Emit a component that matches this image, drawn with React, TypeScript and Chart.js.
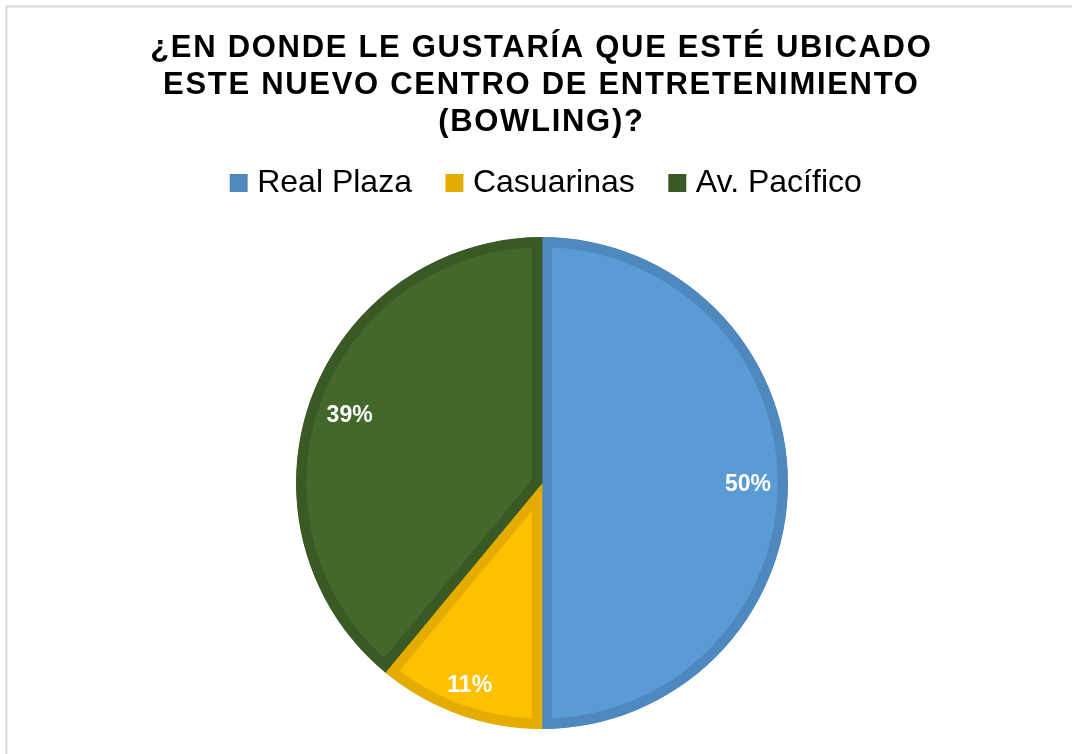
import React, { useEffect, useRef } from "react";
import { Chart, registerables } from "chart.js";

Chart.register(...registerables);

const categories = ["Real Plaza", "Casuarinas", "Av. Pacífico"];
const shares = [50, 11, 39];
const shareLabels = ["50%", "11%", "39%"];
const titleLines = [
  "¿EN DONDE LE GUSTARÍA QUE ESTÉ UBICADO",
  "ESTE NUEVO CENTRO DE ENTRETENIMIENTO",
  "(BOWLING)?",
];
const fillColors = ["#5B9BD5", "#FFC000", "#43682B"];
const edgeColors = ["#4F88BF", "#E5AC00", "#3A5A25"];

const FONT = '"Liberation Sans", Arial, sans-serif';

const framePlugin = {
  id: "frame",
  beforeDraw(chart: any) {
    const ctx = chart.ctx;
    ctx.save();
    ctx.fillStyle = "#FFFFFF";
    ctx.fillRect(0, 0, chart.width, chart.height);
    ctx.strokeStyle = "#D9D9D9";
    ctx.lineWidth = 2;
    ctx.strokeRect(6.5, 6.5, chart.width + 20, chart.height + 20);
    ctx.restore();
  },
};

const titlePlugin = {
  id: "customTitle",
  afterDraw(chart: any) {
    const ctx = chart.ctx;
    ctx.save();
    ctx.fillStyle = "#000000";
    ctx.font = `bold 31px ${FONT}`;
    const spacing = 1.7;
    (ctx as any).letterSpacing = spacing + "px";
    ctx.textAlign = "center";
    ctx.textBaseline = "alphabetic";
    titleLines.forEach((line, i) => {
      ctx.fillText(line, 540.5 + spacing / 2, 57 + i * 37);
    });
    ctx.restore();
  },
};

const legendGapPlugin = {
  id: "legendGap",
  beforeInit(chart: any) {
    const legend = chart.legend;
    if (legend && !legend.__patched) {
      const orig = legend.fit;
      legend.fit = function () {
        orig.call(this);
        this.height += 28;
      };
      legend.__patched = true;
    }
  },
  afterLayout(chart: any) {
    const legend = chart.legend;
    if (legend) {
      legend.left += 7;
      legend.right += 7;
    }
  },
};

const pctPlugin = {
  id: "pctLabels",
  afterDatasetsDraw(chart: any) {
    const ctx = chart.ctx;
    const meta = chart.getDatasetMeta(0);
    ctx.save();
    ctx.font = `bold 23px ${FONT}`;
    ctx.fillStyle = "#FFFFFF";
    ctx.textAlign = "center";
    ctx.textBaseline = "middle";
    meta.data.forEach((arc: any, i: number) => {
      const { x, y, startAngle, endAngle, outerRadius } = arc.getProps(
        ["x", "y", "startAngle", "endAngle", "outerRadius"],
        true
      );
      const mid = (startAngle + endAngle) / 2;
      const c = Math.cos(mid);
      const s = Math.sin(mid);
      const w = ctx.measureText(shareLabels[i]).width;
      const h = 17;
      const ext = Math.abs(c) * (w / 2) + Math.abs(s) * (h / 2);
      const d = outerRadius - 17 - ext;
      ctx.fillText(shareLabels[i], x + c * d, y + s * d + 2);
    });
    ctx.restore();
  },
};

export default function App() {
  const ref = useRef<HTMLCanvasElement | null>(null);

  useEffect(() => {
    if (!ref.current) return;
    const chart = new Chart(ref.current, {
      type: "pie",
      data: {
        labels: categories,
        datasets: [
          {
            data: shares,
            backgroundColor: fillColors,
            borderColor: edgeColors,
            borderWidth: 10,
            borderAlign: "inner",
            hoverBorderWidth: 10,
          } as any,
        ],
      },
      options: {
        responsive: false,
        animation: false,
        layout: { padding: { top: 127, left: 12, right: 0, bottom: 25 } },
        plugins: {
          title: { display: false },
          tooltip: { enabled: false },
          legend: {
            display: true,
            position: "top",
            labels: {
              usePointStyle: true,
              pointStyle: "rect",
              boxWidth: 5,
              boxHeight: 18,
              padding: 40,
              color: "#000000",
              font: { family: FONT, size: 32 },
              generateLabels: () =>
                categories.map((t, i) => ({
                  text: t,
                  fillStyle: edgeColors[i],
                  strokeStyle: edgeColors[i],
                  lineWidth: 0,
                  pointStyle: "rect",
                  hidden: false,
                  index: i,
                  fontColor: "#000000",
                })),
            },
          },
        },
      },
      plugins: [framePlugin, legendGapPlugin, pctPlugin, titlePlugin],
    });
    return () => chart.destroy();
  }, []);

  return (
    <div style={{ position: "absolute", left: 0, top: 0, width: 1072, height: 754 }}>
      <canvas ref={ref} width={1072} height={754} style={{ display: "block" }} />
    </div>
  );
}
